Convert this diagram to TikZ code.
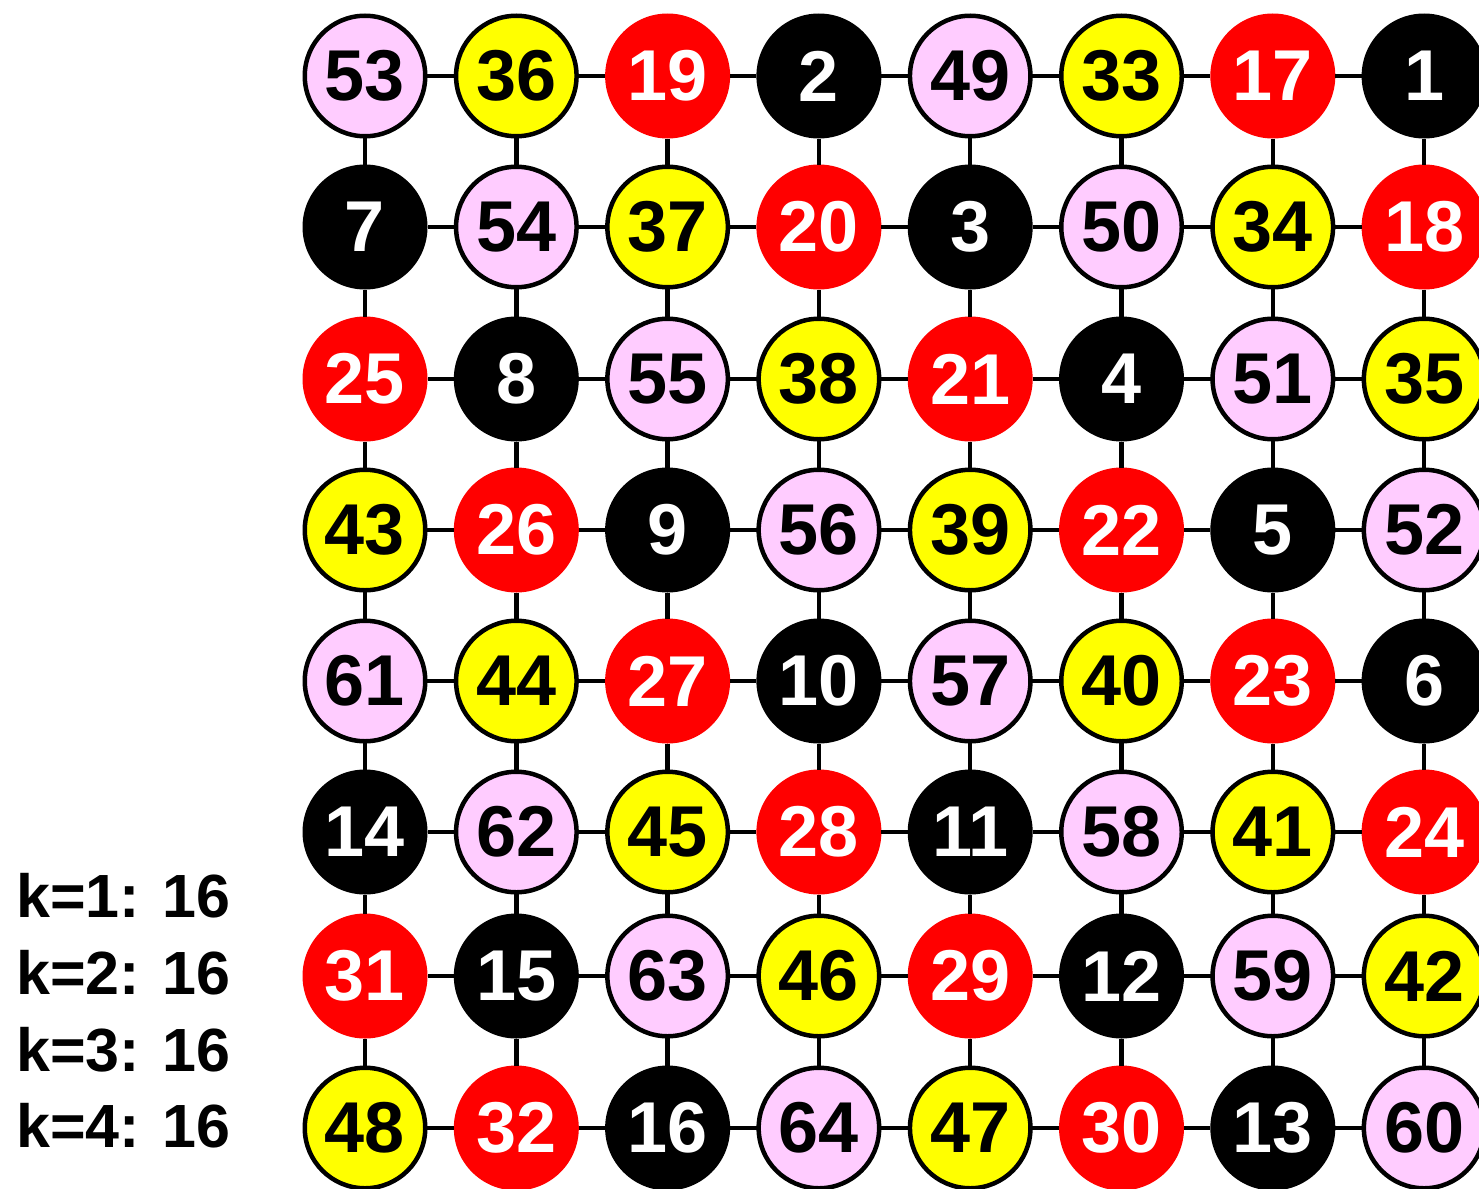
\documentclass[tikz,border=0pt]{standalone}
\usepackage{fontspec}
\setmainfont{Liberation Sans}
\definecolor{pinkc}{HTML}{FFCCFF}
\definecolor{yelc}{HTML}{FFFF00}
\definecolor{redc}{HTML}{FF0000}
\newcommand\gridcell[4]{%
  \pgfmathsetmacro\xx{365+(#3-1)*151.3}%
  \ifnum#4<17 \def\st{blk}\else\ifnum#4<33 \def\st{rd}\else\ifnum#4<49 \def\st{yl}\else\def\st{pk}\fi\fi\fi
  \node[\st] (n#1#3) at (\xx,#2) {#4};}
\tikzset{
  cellbase/.style={circle, inner sep=0pt, outer sep=0pt, line width=4.5pt,
    font=\fontsize{72}{72}\selectfont\bfseries},
  blk/.style={cellbase, fill=black, text=white, minimum size=125pt},
  rd/.style={cellbase, fill=redc, text=white, minimum size=125pt},
  yl/.style={cellbase, fill=yelc, draw=black, text=black, minimum size=120.5pt},
  pk/.style={cellbase, fill=pinkc, draw=black, text=black, minimum size=120.5pt},
  conn/.style={line width=4.5pt, black},
  legend/.style={anchor=base west, inner sep=0pt, font=\fontsize{61}{61}\selectfont\bfseries}
}
\begin{document}
\begin{tikzpicture}[x=1pt,y=-1pt]
\useasboundingbox (0,0) rectangle (1479,1188);
\foreach \v [count=\c] in {53,36,19,2,49,33,17,1} {\gridcell{1}{76}{\c}{\v}}
\foreach \v [count=\c] in {7,54,37,20,3,50,34,18} {\gridcell{2}{227}{\c}{\v}}
\foreach \v [count=\c] in {25,8,55,38,21,4,51,35} {\gridcell{3}{379}{\c}{\v}}
\foreach \v [count=\c] in {43,26,9,56,39,22,5,52} {\gridcell{4}{530}{\c}{\v}}
\foreach \v [count=\c] in {61,44,27,10,57,40,23,6} {\gridcell{5}{681}{\c}{\v}}
\foreach \v [count=\c] in {14,62,45,28,11,58,41,24} {\gridcell{6}{832}{\c}{\v}}
\foreach \v [count=\c] in {31,15,63,46,29,12,59,42} {\gridcell{7}{976}{\c}{\v}}
\foreach \v [count=\c] in {48,32,16,64,47,30,13,60} {\gridcell{8}{1128}{\c}{\v}}
\foreach \r in {1,...,8} {
  \foreach \c [evaluate=\c as \d using {int(\c+1)}] in {1,...,7} {
    \draw[conn] (n\r\c) -- (n\r\d);
  }
}
\foreach \c in {1,...,8} {
  \foreach \r [evaluate=\r as \s using {int(\r+1)}] in {1,...,7} {
    \draw[conn] (n\r\c) -- (n\s\c);
  }
}
\node[legend] (k1) at (16,917) {k=1: 16};
\node[legend] (k2) at (16,994) {k=2: 16};
\node[legend] (k3) at (16,1071) {k=3: 16};
\node[legend] (k4) at (16,1147) {k=4: 16};
\end{tikzpicture}
\end{document}
